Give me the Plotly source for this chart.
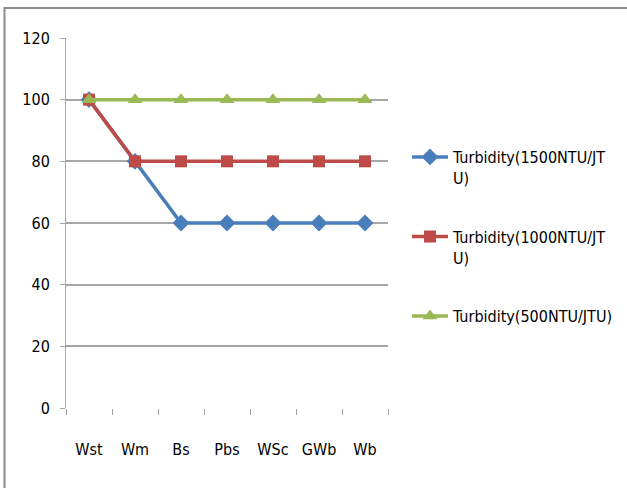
import plotly.graph_objects as go

categories = ["Wst", "Wm", "Bs", "Pbs", "WSc", "GWb", "Wb"]
s1500 = [100, 80, 60, 60, 60, 60, 60]
s1000 = [100, 80, 80, 80, 80, 80, 80]
s500 = [100, 100, 100, 100, 100, 100, 100]
names = ["Turbidity(1500NTU/JT<br>U)", "Turbidity(1000NTU/JT<br>U)", "Turbidity(500NTU/JTU)"]
yticks = [0, 20, 40, 60, 80, 100, 120]

W, H = 627, 488
L, R, T, B = 66, 239, 38, 80
pw, ph = W - L - R, H - T - B

FONT = "DejaVu Sans Condensed, DejaVu Sans"

fig = go.Figure()
fig.add_trace(go.Scatter(x=categories, y=s1500, name=names[0], mode="lines+markers",
                         legendgroup="a",
                         line=dict(color="#4A7EBB", width=3.5),
                         marker=dict(symbol="diamond", size=13, color="#4A7EBB")))
fig.add_trace(go.Scatter(x=categories, y=s1000, name=names[1], mode="lines+markers",
                         legendgroup="b",
                         line=dict(color="#BE4B48", width=3.5),
                         marker=dict(symbol="square", size=12, color="#BE4B48")))
fig.add_trace(go.Scatter(x=categories, y=s500, name=names[2], mode="lines+markers",
                         legendgroup="c",
                         line=dict(color="#98B954", width=3.5),
                         marker=dict(symbol="triangle-up", size=13, color="#98B954")))

def px(x):
    return (x - L) / pw

def py(y):
    return (H - B - y) / ph

fig.update_layout(
    width=W, height=H,
    margin=dict(l=L, r=R, t=T, b=B, autoexpand=False),
    paper_bgcolor="white", plot_bgcolor="white",
    font=dict(family=FONT, size=16, color="#000"),
    showlegend=True,
    legend=dict(x=px(407), y=py(140), xanchor="left", yanchor="top",
                font=dict(family=FONT, size=16, color="#000"),
                traceorder="grouped", tracegroupgap=35, valign="top",
                itemwidth=36, bgcolor="rgba(0,0,0,0)"),
    xaxis=dict(type="category", categoryorder="array", categoryarray=categories,
               range=[-0.5, 6.5], showgrid=False, showline=False, zeroline=False,
               ticks="outside", tickson="boundaries", ticklen=6, tickcolor="#A0A0A0",
               ticklabelstandoff=30,
               tickfont=dict(family=FONT, size=16), fixedrange=True),
    yaxis=dict(range=[0, 120], tickvals=yticks, showgrid=True, gridcolor="#A6A6A6",
               gridwidth=1.5, showline=True, linecolor="#A6A6A6", linewidth=1,
               zeroline=False, ticks="outside", ticklen=5, tickcolor="#A6A6A6",
               ticklabelstandoff=7,
               tickfont=dict(family=FONT, size=16), fixedrange=True),
    shapes=[dict(type="rect", xref="paper", yref="paper",
                 x0=px(4.5), x1=px(700), y0=py(600), y1=py(8),
                 line=dict(color="#8A8A8A", width=2), fillcolor="rgba(0,0,0,0)", layer="below")],
)
fig.write_html("out.html", config={"displayModeBar": False},
               post_script="document.body.style.margin='0';document.body.style.overflow='hidden';")
